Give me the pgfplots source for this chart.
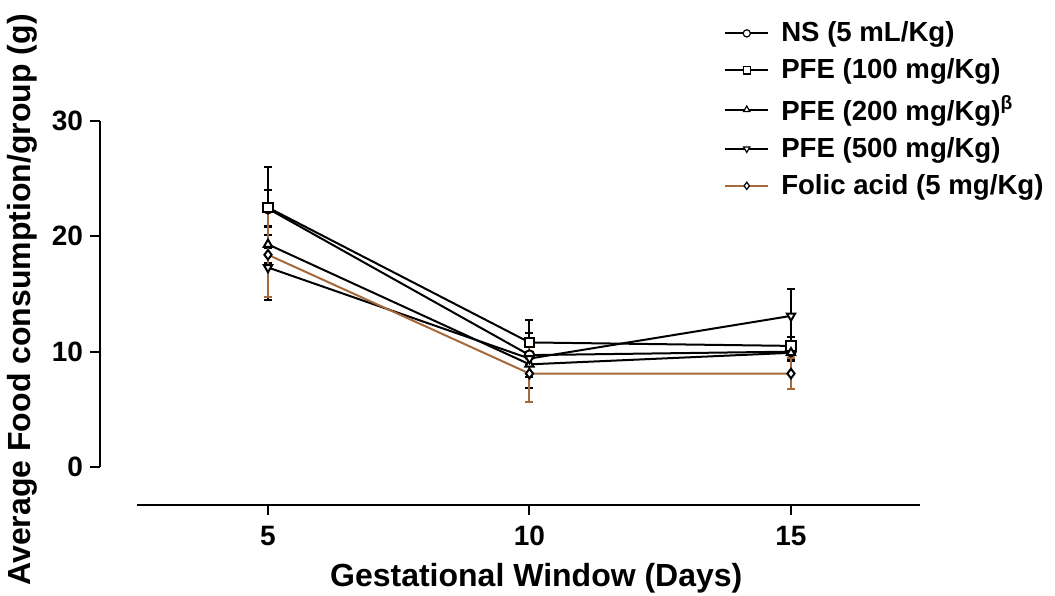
\documentclass[border=0pt]{standalone}
\usepackage{pgfplots}
\pgfplotsset{compat=1.18}
\usepackage{pgfplotstable}
\usepackage{fontspec}
\setmainfont{Liberation Sans}
\definecolor{folic}{RGB}{165,105,60}

% day, mean, error
\pgfplotstableread{
x y e
5 22.4 1.6
10 9.7 1.9
15 10.0 0.6
}\ns
\pgfplotstableread{
x y e
5 22.5 3.5
10 10.8 1.95
15 10.5 0.8
}\pfeA
\pgfplotstableread{
x y e
5 19.3 1.6
10 8.9 2.05
15 9.9 0.7
}\pfeB
\pgfplotstableread{
x y e
5 17.3 2.8
10 9.4 1.3
15 13.1 2.3
}\pfeC
\pgfplotstableread{
x y e
5 18.4 3.7
10 8.1 2.5
15 8.1 1.35
}\folic

\begin{document}
\begin{tikzpicture}
\useasboundingbox (0,0) rectangle (527.5pt,297.5pt);
\begin{axis}[
  at={(50pt,45pt)}, anchor=south west,
  scale only axis, width=410pt, height=192pt,
  xmin=1.788, xmax=17.467, ymin=-3.296, ymax=30,
  axis x line*=bottom, axis y line*=left,
  x axis line style={shorten <=18.5pt},
  y axis line style={shorten <=19pt},
  axis line style={line width=1pt},
  xtick={5,10,15}, ytick={0,10,20,30},
  tick align=outside, major tick length=5pt,
  tick style={line width=1pt, black},
  ticklabel style={font=\bfseries\fontsize{14}{16}\selectfont},
  xticklabel style={yshift=-2pt},
  /pgf/number format/assume math mode=true,
  xlabel={Gestational Window (Days)},
  ylabel={Average Food consumption/group (g)},
  label style={font=\bfseries\fontsize{16}{18}\selectfont},
  xlabel style={at={(axis description cs:0.532,-0.19)}, anchor=center},
  ylabel style={at={(axis description cs:-0.095,0.534)}, anchor=center},
  legend style={draw=none, fill=none, at={(0.7535,1.28)}, anchor=north west,
    font=\bfseries\fontsize{13.8}{16}\selectfont, row sep=3pt, column sep=4pt},
  legend cell align=left,
  legend image code/.code={
    \draw[mark repeat=2, mark phase=2, mark size=1.8pt,
      /tikz/every mark/.append style={line width=0.6pt}]
      plot coordinates {(0pt,0pt) (10.75pt,0pt) (21.5pt,0pt)};},
  every axis plot/.append style={line width=1pt, mark size=2.4pt,
    error bars/y dir=both, error bars/y explicit,
    error bars/error bar style={line width=1pt},
    error bars/error mark options={rotate=90, mark size=2pt, line width=1pt}},
]
\addplot[black, mark=*, mark options={fill=white}] table[x=x, y=y, y error=e] {\ns};
\addlegendentry{NS (5 mL/Kg)}
\addplot[black, mark=square*, mark options={fill=white}] table[x=x, y=y, y error=e] {\pfeA};
\addlegendentry{PFE (100 mg/Kg)}
\addplot[black, mark=triangle*, mark options={fill=white}] table[x=x, y=y, y error=e] {\pfeB};
\addlegendentry{PFE (200 mg/Kg)\textsuperscript{β}}
\addplot[black, mark=triangle*, mark options={fill=white, rotate=180}] table[x=x, y=y, y error=e] {\pfeC};
\addlegendentry{PFE (500 mg/Kg)}
\addplot[folic, mark=diamond*, mark options={fill=white, draw=black}] table[x=x, y=y, y error=e] {\folic};
\addlegendentry{Folic acid (5 mg/Kg)}
\end{axis}
\end{tikzpicture}
\end{document}
